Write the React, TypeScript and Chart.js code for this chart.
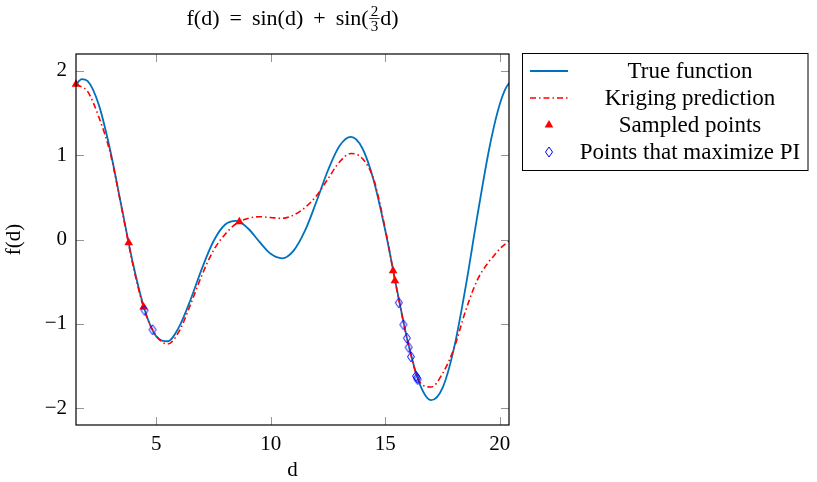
import React, { useEffect, useRef } from "react";
import { Chart, registerables } from "chart.js";

Chart.register(...registerables);

// ---------- data ----------
const dGrid = [
  1.5, 1.75, 2, 2.5, 3, 3.5, 4, 4.5, 5, 5.5, 6, 6.5, 7, 7.5, 8, 8.5, 9, 9.5, 10,
  10.5, 11, 11.5, 12, 12.5, 13, 13.5, 14, 14.5, 15, 15.5, 16, 16.5, 17, 17.5,
  18, 18.5, 19, 19.5, 19.75, 20, 20.25, 20.5,
];
const trueValues = [
  1.839, 1.903, 1.881, 1.594, 1.05, 0.372, -0.3, -0.836, -1.149, -1.207,
  -1.036, -0.714, -0.342, -0.021, 0.175, 0.22, 0.133, -0.025, -0.17, -0.223,
  -0.132, 0.107, 0.453, 0.821, 1.108, 1.216, 1.082, 0.695, 0.106, -0.582,
  -1.234, -1.712, -1.905, -1.759, -1.288, -0.574, 0.25, 1.026, 1.348, 1.607,
  1.789, 1.888,
];
const krigingValues = [
  1.84, 1.81, 1.76, 1.45, 1.02, 0.36, -0.32, -0.85, -1.14, -1.24, -1.09,
  -0.77, -0.42, -0.13, 0.06, 0.19, 0.25, 0.27, 0.26, 0.25, 0.29, 0.38, 0.52,
  0.72, 0.92, 1.02, 0.96, 0.71, 0.12, -0.59, -1.23, -1.69, -1.75, -1.59,
  -1.29, -0.85, -0.49, -0.27, -0.19, -0.11, -0.05, 0.0,
];
const sampledD = [1.5, 3.8, 4.45, 8.63, 15.34, 15.42];
const sampledF = [1.84, -0.04, -0.8, 0.21, -0.37, -0.49];
const piD = [4.49, 4.84, 15.59, 15.79, 15.94, 16.02, 16.12, 16.34, 16.38, 16.41];
const piF = [-0.84, -1.07, -0.75, -1.01, -1.17, -1.28, -1.39, -1.62, -1.64, -1.66];

const xTicks = [5, 10, 15, 20];
const yTicks = [-2, -1, 0, 1, 2];
const seriesLabels = [
  "True function",
  "Kriging prediction",
  "Sampled points",
  "Points that maximize PI",
];

// ---------- styles ----------
const FONT_FAMILY = '"Liberation Serif", "Times New Roman", serif';
const BLUE = "rgb(0,114,189)";
const RED = "rgb(255,0,0)";
const MARK_BLUE = "rgb(0,0,255)";
const DASH = [6, 3, 1.5, 3];

function fmt(v: number): string {
  return v < 0 ? "\u2212" + Math.abs(v) : String(v);
}

function makeDiamond(): HTMLCanvasElement {
  const c = document.createElement("canvas");
  c.width = 10;
  c.height = 12;
  const g = c.getContext("2d")!;
  g.strokeStyle = MARK_BLUE;
  g.lineWidth = 1;
  g.beginPath();
  g.moveTo(5, 1);
  g.lineTo(8.5, 6);
  g.lineTo(5, 11);
  g.lineTo(1.5, 6);
  g.closePath();
  g.stroke();
  return c;
}

export default function App() {
  const ref = useRef<HTMLCanvasElement>(null);

  useEffect(() => {
    const canvas = ref.current!;
    const diamond = makeDiamond();

    const framePlugin = {
      id: "frameTitleLegend",
      afterDraw(chart: any) {
        const ctx = chart.ctx as CanvasRenderingContext2D;
        const { left, right, top, bottom } = chart.chartArea;
        const xs = chart.scales.x;
        const ys = chart.scales.y;
        ctx.save();
        // inward ticks on all four sides
        ctx.strokeStyle = "rgb(150,150,150)";
        ctx.lineWidth = 1;
        const TL = 8;
        ctx.beginPath();
        for (const t of xs.ticks) {
          const px = Math.round(xs.getPixelForValue(t.value)) + 0.5;
          ctx.moveTo(px, bottom);
          ctx.lineTo(px, bottom - TL);
          ctx.moveTo(px, top);
          ctx.lineTo(px, top + TL);
        }
        for (const t of ys.ticks) {
          const py = Math.round(ys.getPixelForValue(t.value)) + 0.5;
          ctx.moveTo(left, py);
          ctx.lineTo(left + TL, py);
          ctx.moveTo(right, py);
          ctx.lineTo(right - TL, py);
        }
        ctx.stroke();
        // frame
        ctx.strokeStyle = "#000";
        ctx.lineWidth = 1.2;
        ctx.strokeRect(left, top, right - left, bottom - top);

        // title with stacked fraction and math spacing
        const cx = (left + right) / 2;
        const mainFont = `22px ${FONT_FAMILY}`;
        const fracFont = `15px ${FONT_FAMILY}`;
        const gap = 10;
        const pieces = ["f(d)", "=", "sin(d)", "+", "sin("];
        ctx.fillStyle = "#000";
        ctx.textBaseline = "alphabetic";
        ctx.font = mainFont;
        const widths = pieces.map((p) => ctx.measureText(p).width);
        const tailW = ctx.measureText("d)").width;
        ctx.font = fracFont;
        const wf = Math.max(ctx.measureText("2").width, ctx.measureText("3").width) + 4;
        const total =
          widths.reduce((a, b) => a + b, 0) + gap * (pieces.length - 1) + wf + tailW;
        let x = cx - total / 2;
        const base = 25;
        ctx.font = mainFont;
        ctx.textAlign = "left";
        pieces.forEach((p, i) => {
          ctx.fillText(p, x, base);
          x += widths[i] + (i < pieces.length - 1 ? gap : 0);
        });
        ctx.font = fracFont;
        ctx.textAlign = "center";
        ctx.fillText("2", x + wf / 2, 16);
        ctx.fillText("3", x + wf / 2, 30.5);
        ctx.lineWidth = 0.8;
        ctx.beginPath();
        ctx.moveTo(x + 0.5, 18.5);
        ctx.lineTo(x + wf - 0.5, 18.5);
        ctx.stroke();
        ctx.font = mainFont;
        ctx.textAlign = "left";
        ctx.fillText("d)", x + wf, base);

        // legend
        const bx = 522.5, by = 53.5, bw = 285.5, bh = 117;
        ctx.fillStyle = "#fff";
        ctx.fillRect(bx, by, bw, bh);
        ctx.strokeStyle = "#000";
        ctx.lineWidth = 1;
        ctx.strokeRect(bx, by, bw, bh);
        const rowY = [71, 98, 125, 152];
        const sx0 = 530, sx1 = 568, sxc = 549;
        const textX = 690;
        ctx.font = `23px ${FONT_FAMILY}`;
        ctx.textAlign = "center";
        ctx.textBaseline = "middle";
        seriesLabels.forEach((lbl, i) => {
          const y = rowY[i];
          ctx.fillStyle = "#000";
          ctx.fillText(lbl, textX, y + 1);
          if (i === 0) {
            ctx.strokeStyle = BLUE;
            ctx.lineWidth = 1.8;
            ctx.setLineDash([]);
            ctx.beginPath();
            ctx.moveTo(sx0, y);
            ctx.lineTo(sx1, y);
            ctx.stroke();
          } else if (i === 1) {
            ctx.strokeStyle = RED;
            ctx.lineWidth = 1.6;
            ctx.setLineDash(DASH);
            ctx.beginPath();
            ctx.moveTo(sx0, y);
            ctx.lineTo(sx1, y);
            ctx.stroke();
            ctx.setLineDash([]);
          } else if (i === 2) {
            const r = 5;
            ctx.fillStyle = RED;
            ctx.beginPath();
            ctx.moveTo(sxc, y - r);
            ctx.lineTo(sxc + r * 0.866, y + r * 0.5);
            ctx.lineTo(sxc - r * 0.866, y + r * 0.5);
            ctx.closePath();
            ctx.fill();
          } else {
            ctx.drawImage(diamond, sxc - 5, y - 6);
          }
        });
        ctx.restore();
      },
    };

    const tickFont = { family: FONT_FAMILY, size: 21 };
    const titleFont = { family: FONT_FAMILY, size: 21, lineHeight: 1.1 };

    const chart = new Chart(canvas, {
      type: "scatter",
      data: {
        datasets: [
          {
            label: seriesLabels[0],
            data: dGrid.map((d, i) => ({ x: d, y: trueValues[i] })),
            showLine: true,
            borderColor: BLUE,
            backgroundColor: BLUE,
            borderWidth: 1.8,
            pointRadius: 0,
            cubicInterpolationMode: "monotone",
            order: 4,
          },
          {
            label: seriesLabels[1],
            data: dGrid.map((d, i) => ({ x: d, y: krigingValues[i] })),
            showLine: true,
            borderColor: RED,
            backgroundColor: RED,
            borderWidth: 1.6,
            borderDash: DASH,
            pointRadius: 0,
            cubicInterpolationMode: "monotone",
            order: 3,
          },
          {
            label: seriesLabels[2],
            data: sampledD.map((d, i) => ({ x: d, y: sampledF[i] })),
            pointStyle: "triangle",
            pointRadius: 5,
            backgroundColor: RED,
            borderColor: RED,
            borderWidth: 0,
            clip: false,
            order: 2,
          },
          {
            label: seriesLabels[3],
            data: piD.map((d, i) => ({ x: d, y: piF[i] })),
            pointStyle: diamond,
            pointRadius: 5,
            clip: false,
            order: 1,
          },
        ] as any,
      },
      options: {
        responsive: false,
        animation: false,
        events: [],
        layout: { padding: { left: 0, top: 54, right: 308, bottom: 0 } },
        plugins: {
          legend: { display: false },
          tooltip: { enabled: false },
          title: { display: false },
        },
        scales: {
          x: {
            type: "linear",
            min: 1.5,
            max: 20.4,
            grid: { display: false, drawTicks: false },
            border: { display: false },
            afterBuildTicks: (s: any) => {
              s.ticks = xTicks.map((v) => ({ value: v }));
            },
            afterFit: (s: any) => {
              s.height = 57;
            },
            ticks: {
              font: tickFont,
              color: "#000",
              padding: 7,
              maxRotation: 0,
              callback: (v: any) => fmt(Number(v)),
            },
            title: {
              display: true,
              text: "d",
              font: titleFont,
              color: "#000",
              padding: { top: 0, bottom: 0 },
            },
          },
          y: {
            type: "linear",
            min: -2.2,
            max: 2.2,
            grid: { display: false, drawTicks: false },
            border: { display: false },
            afterBuildTicks: (s: any) => {
              s.ticks = yTicks.map((v) => ({ value: v }));
            },
            afterFit: (s: any) => {
              s.width = 76;
            },
            ticks: {
              font: tickFont,
              color: "#000",
              padding: 9,
              callback: (v: any) => fmt(Number(v)),
            },
            title: {
              display: true,
              text: "f(d)",
              font: titleFont,
              color: "#000",
              padding: { top: 3, bottom: 0 },
            },
          },
        },
      } as any,
      plugins: [framePlugin],
    });

    return () => chart.destroy();
  }, []);

  return (
    <div
      style={{
        position: "fixed",
        left: 0,
        top: 0,
        width: 817,
        height: 482,
        background: "#fff",
      }}
    >
      <canvas ref={ref} width={817} height={482} style={{ width: 817, height: 482 }} />
    </div>
  );
}
